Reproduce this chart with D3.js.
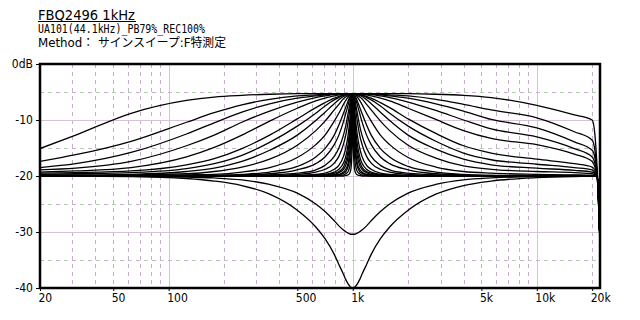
<!DOCTYPE html>
<html>
<head>
<meta charset="utf-8">
<script src="https://cdn.jsdelivr.net/npm/d3@7"></script>
<style>
  body { margin: 0; background: #fff; }
  text { fill: #000; }
  .tick-label { font-family: "Liberation Sans Narrow", "DejaVu Sans Condensed", "DejaVu Sans", sans-serif; font-size: 12px; }
</style>
</head>
<body>
<div id="chart-container"></div>
<script>
// title lines
const titleText = "FBQ2496 1kHz";
const infoLines = ["UA101(44.1kHz)_PB79%_REC100%", "Method\uff1a  \u30b5\u30a4\u30f3\u30b9\u30a4\u30fc\u30d7:F\u7279\u6e2c\u5b9a"];

// axis ticks
const xTickValues = [20, 50, 100, 500, 1000, 5000, 10000, 20000];
const xTickLabels = ["20", "50", "100", "500", "1k", "5k", "10k", "20k"];
const yTickValues = [0, -10, -20, -30, -40];
const yTickLabels = ["0dB", "-10", "-20", "-30", "-40"];
const gridFreqMinor = [30, 40, 50, 60, 70, 80, 90, 200, 300, 400, 500, 600, 700, 800, 900,
                       2000, 3000, 4000, 5000, 6000, 7000, 8000, 9000, 20000];
const gridFreqMajor = [100, 1000, 10000];
const gridDbMinor = [-5, -15, -25, -35];
const gridDbMajor = [-10, -20, -30];

// measurement frequencies (Hz) shared by every sweep
const freqs = [20, 31.25, 62.5, 125, 176.8, 250, 353.6, 500, 630, 707.1, 793.7, 840.9, 890.9, 917, 943.9, 965.9, 977.1, 988.5, 994.2,
  1000,
  1005.8, 1011.6, 1023.4, 1035.3, 1059.5, 1090.5, 1122.5, 1189.2, 1259.9, 1414.2, 1587.4, 2000, 2828, 4000, 5657, 10000, 16000,
  20000, 20700, 21300, 22050];

// boost sweeps, widest bandwidth first (dB)
const bandwidths = ["10", "7", "6", "5", "4", "3", "2.5", "2", "1.5", "1", "2/3", "1/2", "1/3", "1/4", "1/6", "1/8", "1/10", "1/12", "1/16", "1/20", "1/30", "1/60"];
const boostDb = [
  [-15.1,-12.7,-8.8,-6.5,-5.9,-5.6,-5.4,-5.3,-5.3,-5.3,-5.3,-5.3,-5.3,-5.3,-5.3,-5.3,-5.3,-5.3,-5.3, -5.3,
   -5.3,-5.3,-5.3,-5.3,-5.3,-5.3,-5.3,-5.3,-5.3,-5.3,-5.3,-5.3,-5.4,-5.6,-6.0,-7.4,-9.1, -10.0,-12.7,-19.0,-32],
  [-17.4,-16.2,-13.8,-10.4,-8.7,-7.3,-6.3,-5.7,-5.5,-5.4,-5.35,-5.3,-5.3,-5.3,-5.3,-5.3,-5.3,-5.3,-5.3, -5.3,
   -5.3,-5.3,-5.3,-5.3,-5.3,-5.3,-5.3,-5.3,-5.35,-5.4,-5.5,-5.7,-6.3,-7.2,-8.2,-9.6,-12.1, -13.6,-15.5,-19.8,-32],
  [-18.5,-17.8,-15.8,-12.5,-10.5,-8.6,-7.1,-6.1,-5.7,-5.5,-5.4,-5.35,-5.3,-5.3,-5.3,-5.3,-5.3,-5.3,-5.3, -5.3,
   -5.3,-5.3,-5.3,-5.3,-5.3,-5.3,-5.3,-5.35,-5.4,-5.5,-5.7,-6.1,-7.1,-8.4,-9.9,-11.4,-13.9, -15.4,-16.8,-19.9,-32],
  [-18.9,-18.6,-17.4,-14.6,-12.7,-10.4,-8.4,-6.8,-6.0,-5.7,-5.45,-5.4,-5.35,-5.3,-5.3,-5.3,-5.3,-5.3,-5.3, -5.3,
   -5.3,-5.3,-5.3,-5.3,-5.3,-5.3,-5.35,-5.4,-5.45,-5.7,-6.0,-6.8,-8.3,-10.0,-11.6,-13.0,-15.1, -16.6,-17.8,-20.0,-32],
  [-19.3,-19.1,-18.5,-16.6,-14.9,-12.7,-10.2,-7.9,-6.6,-6.1,-5.7,-5.5,-5.4,-5.35,-5.3,-5.3,-5.3,-5.3,-5.3, -5.3,
   -5.3,-5.3,-5.3,-5.3,-5.3,-5.35,-5.4,-5.5,-5.7,-6.1,-6.6,-7.9,-9.9,-11.9,-13.3,-14.4,-16.1, -17.4,-18.4,-20.1,-32],
  [-19.5,-19.4,-19.1,-18.0,-16.9,-15.1,-12.7,-9.8,-7.8,-6.9,-6.1,-5.8,-5.5,-5.4,-5.35,-5.3,-5.3,-5.3,-5.3, -5.3,
   -5.3,-5.3,-5.3,-5.3,-5.35,-5.4,-5.5,-5.8,-6.1,-6.9,-7.8,-9.8,-12.4,-14.6,-15.9,-17.0,-17.8, -18.4,-19.0,-20.1,-32],
  [-19.7,-19.6,-19.4,-18.7,-17.8,-16.3,-14.0,-11.1,-8.8,-7.5,-6.4,-6.0,-5.6,-5.5,-5.4,-5.35,-5.3,-5.3,-5.3, -5.3,
   -5.3,-5.3,-5.3,-5.35,-5.4,-5.5,-5.6,-6.0,-6.4,-7.5,-8.8,-11.1,-13.8,-15.9,-17.1,-17.9,-18.5, -18.9,-19.4,-20.1,-32],
  [-19.8,-19.8,-19.7,-19.2,-18.6,-17.4,-15.4,-12.7,-10.1,-8.6,-7.1,-6.4,-5.8,-5.6,-5.4,-5.35,-5.3,-5.3,-5.3, -5.3,
   -5.3,-5.3,-5.3,-5.35,-5.4,-5.6,-5.8,-6.4,-7.1,-8.6,-10.1,-12.7,-15.2,-17.0,-18.0,-18.6,-19.0, -19.3,-19.6,-20.1,-32],
  [-19.9,-19.9,-19.8,-19.6,-19.2,-18.4,-17.0,-14.5,-11.9,-10.2,-8.2,-7.2,-6.2,-5.9,-5.6,-5.4,-5.35,-5.3,-5.3, -5.3,
   -5.3,-5.3,-5.35,-5.4,-5.6,-5.9,-6.2,-7.2,-8.2,-10.2,-11.9,-14.5,-16.8,-18.2,-18.8,-19.2,-19.4, -19.6,-19.8,-20.1,-32],
  [-20.0,-20.0,-20.0,-19.8,-19.7,-19.3,-18.5,-16.7,-14.4,-12.7,-10.2,-8.8,-7.2,-6.5,-5.9,-5.5,-5.4,-5.35,-5.3, -5.3,
   -5.3,-5.35,-5.4,-5.5,-5.9,-6.5,-7.2,-8.8,-10.2,-12.7,-14.4,-16.7,-18.4,-19.2,-19.5,-19.7,-19.8, -19.9,-20.0,-20.1,-32],
  [-20.0,-20.0,-20.0,-19.9,-19.9,-19.7,-19.3,-18.3,-16.6,-15.1,-12.7,-10.9,-8.8,-7.7,-6.6,-5.8,-5.5,-5.35,-5.3, -5.3,
   -5.3,-5.35,-5.5,-5.8,-6.6,-7.7,-8.8,-10.9,-12.7,-15.1,-16.6,-18.3,-19.3,-19.7,-19.9,-19.9,-19.9, -20.0,-20.0,-20.1,-32],
  [-20.0,-20.0,-20.0,-20.0,-19.9,-19.8,-19.6,-18.9,-17.8,-16.6,-14.4,-12.7,-10.3,-8.8,-7.3,-6.1,-5.7,-5.4,-5.35, -5.3,
   -5.35,-5.4,-5.7,-6.1,-7.3,-8.8,-10.3,-12.7,-14.4,-16.6,-17.8,-18.9,-19.6,-19.8,-19.9,-20.0,-20.0, -20.0,-20.0,-20.1,-32],
  [-20.0,-20.0,-20.0,-20.0,-20.0,-19.9,-19.8,-19.5,-18.9,-18.1,-16.5,-15.0,-12.7,-11.0,-8.8,-7.0,-6.1,-5.5,-5.35, -5.3,
   -5.35,-5.5,-6.1,-7.0,-8.8,-11.0,-12.7,-15.0,-16.5,-18.1,-18.9,-19.5,-19.8,-19.9,-20.0,-20.0,-20.0, -20.0,-20.0,-20.1,-32],
  [-20.0,-20.0,-20.0,-20.0,-20.0,-20.0,-19.9,-19.7,-19.3,-18.8,-17.7,-16.5,-14.3,-12.7,-10.3,-7.9,-6.7,-5.7,-5.4, -5.3,
   -5.4,-5.7,-6.7,-7.9,-10.3,-12.7,-14.3,-16.5,-17.7,-18.8,-19.3,-19.7,-19.9,-20.0,-20.0,-20.0,-20.0, -20.0,-20.0,-20.1,-32],
  [-20.0,-20.0,-20.0,-20.0,-20.0,-20.0,-20.0,-19.9,-19.7,-19.5,-18.8,-18.1,-16.5,-15.0,-12.7,-9.8,-7.9,-6.1,-5.5, -5.3,
   -5.5,-6.1,-7.9,-9.8,-12.7,-15.0,-16.5,-18.1,-18.8,-19.5,-19.7,-19.9,-20.0,-20.0,-20.0,-20.0,-20.0, -20.0,-20.0,-20.1,-32],
  [-20.0,-20.0,-20.0,-20.0,-20.0,-20.0,-20.0,-19.9,-19.8,-19.7,-19.3,-18.8,-17.7,-16.5,-14.3,-11.3,-9.2,-6.7,-5.7, -5.3,
   -5.7,-6.7,-9.2,-11.3,-14.3,-16.5,-17.7,-18.8,-19.3,-19.7,-19.8,-19.9,-20.0,-20.0,-20.0,-20.0,-20.0, -20.0,-20.0,-20.1,-32],
  [-20.0,-20.0,-20.0,-20.0,-20.0,-20.0,-20.0,-20.0,-19.9,-19.8,-19.5,-19.2,-18.4,-17.4,-15.5,-12.7,-10.3,-7.3,-5.9, -5.3,
   -5.9,-7.3,-10.3,-12.7,-15.5,-17.4,-18.4,-19.2,-19.5,-19.8,-19.9,-20.0,-20.0,-20.0,-20.0,-20.0,-20.0, -20.0,-20.0,-20.1,-32],
  [-20.0,-20.0,-20.0,-20.0,-20.0,-20.0,-20.0,-20.0,-20.0,-19.9,-19.7,-19.4,-18.8,-18.1,-16.5,-13.7,-11.3,-7.9,-6.1, -5.3,
   -6.1,-7.9,-11.3,-13.7,-16.5,-18.1,-18.8,-19.4,-19.7,-19.9,-20.0,-20.0,-20.0,-20.0,-20.0,-20.0,-20.0, -20.0,-20.0,-20.1,-32],
  [-20.0,-20.0,-20.0,-20.0,-20.0,-20.0,-20.0,-20.0,-20.0,-19.9,-19.8,-19.7,-19.3,-18.8,-17.7,-15.3,-13.0,-9.2,-6.7, -5.3,
   -6.7,-9.2,-13.0,-15.3,-17.7,-18.8,-19.3,-19.7,-19.8,-19.9,-20.0,-20.0,-20.0,-20.0,-20.0,-20.0,-20.0, -20.0,-20.0,-20.1,-32],
  [-20.0,-20.0,-20.0,-20.0,-20.0,-20.0,-20.0,-20.0,-20.0,-20.0,-19.9,-19.8,-19.5,-19.2,-18.3,-16.5,-14.3,-10.3,-7.3, -5.3,
   -7.3,-10.3,-14.3,-16.5,-18.3,-19.2,-19.5,-19.8,-19.9,-20.0,-20.0,-20.0,-20.0,-20.0,-20.0,-20.0,-20.0, -20.0,-20.0,-20.1,-32],
  [-20.0,-20.0,-20.0,-20.0,-20.0,-20.0,-20.0,-20.0,-20.0,-20.0,-20.0,-19.9,-19.8,-19.6,-19.2,-18.1,-16.5,-12.7,-8.9, -5.3,
   -8.9,-12.7,-16.5,-18.1,-19.2,-19.6,-19.8,-19.9,-20.0,-20.0,-20.0,-20.0,-20.0,-20.0,-20.0,-20.0,-20.0, -20.0,-20.0,-20.1,-32],
  [-20.0,-20.0,-20.0,-20.0,-20.0,-20.0,-20.0,-20.0,-20.0,-20.0,-20.0,-20.0,-20.0,-19.9,-19.8,-19.4,-18.8,-16.5,-12.7, -5.3,
   -12.7,-16.5,-18.8,-19.4,-19.8,-19.9,-20.0,-20.0,-20.0,-20.0,-20.0,-20.0,-20.0,-20.0,-20.0,-20.0,-20.0, -20.0,-20.0,-20.1,-32]
];

// cut sweeps (dB)
const cutDb = [
  [-20.0,-20.0,-20.05,-20.2,-20.35,-20.7,-21.5,-23.05,-25.0,-26.35,-28.0,-28.9,-29.65,-29.95,-30.2,-30.35,-30.4,-30.4,-30.4, -30.4,
   -30.4,-30.4,-30.4,-30.35,-30.2,-29.95,-29.65,-28.9,-28.0,-26.35,-25.0,-23.05,-21.5,-20.7,-20.35,-20.1,-20.05, -20.0,-20.0,-20.1,-32],
  [-20.0,-20.05,-20.1,-20.45,-20.9,-21.7,-23.25,-26.1,-29.1,-31.2,-34.0,-35.8,-37.55,-38.5,-39.25,-39.7,-39.87,-39.97,-40.0, -40.0,
   -40.0,-39.97,-39.87,-39.7,-39.25,-38.5,-37.55,-35.8,-34.0,-31.2,-29.1,-26.1,-23.25,-21.7,-20.9,-20.3,-20.1, -20.05,-20.0,-20.1,-32]
];

const margin = {top: 64, right: 40, bottom: 32, left: 40},
    width = 640 - margin.left - margin.right,
    height = 320 - margin.top - margin.bottom;

const svg = d3.select("#chart-container")
    .append("svg")
    .attr("width", 640)
    .attr("height", 320)
    .style("background", "#fff");

// header
svg.append("text")
    .attr("x", 38).attr("y", 19.5)
    .attr("textLength", 97).attr("lengthAdjust", "spacingAndGlyphs")
    .style("font-family", "'DejaVu Sans', sans-serif")
    .style("font-size", "13.5px")
    .text(titleText);
svg.append("line")
    .attr("x1", 38).attr("x2", 136)
    .attr("y1", 21.5).attr("y2", 21.5)
    .attr("stroke", "#000").attr("stroke-width", 1);
svg.append("text")
    .attr("x", 38).attr("y", 33)
    .attr("textLength", 167).attr("lengthAdjust", "spacingAndGlyphs")
    .style("font-family", "'DejaVu Sans Mono', monospace")
    .style("font-size", "11.5px")
    .text(infoLines[0]);
svg.append("text")
    .attr("x", 38).attr("y", 47)
    .attr("textLength", 188).attr("lengthAdjust", "spacingAndGlyphs")
    .style("font-family", "'DejaVu Sans', 'Noto Sans CJK JP', sans-serif")
    .style("font-size", "12px")
    .text(infoLines[1]);

const g = svg.append("g")
    .attr("transform", `translate(${margin.left},${margin.top})`);

const x = d3.scaleLog()
    .domain([20, 22050])
    .range([0, width]);
const y = d3.scaleLinear()
    .domain([-40, 0])
    .range([height, 0]);

// grid
const purple = "#c8aecc", green = "#b4d0b4";
g.selectAll(".vminor")
    .data(gridFreqMinor)
    .join("line")
    .attr("x1", d => Math.round(x(d)) + 0.5).attr("x2", d => Math.round(x(d)) + 0.5)
    .attr("y1", 0).attr("y2", height)
    .attr("stroke", purple).attr("stroke-dasharray", "4,4")
    .attr("shape-rendering", "crispEdges");
g.selectAll(".hminor")
    .data(gridDbMinor)
    .join("line")
    .attr("x1", 0).attr("x2", width)
    .attr("y1", d => Math.round(y(d)) + 0.5).attr("y2", d => Math.round(y(d)) + 0.5)
    .attr("stroke", purple).attr("stroke-dasharray", "4,4")
    .attr("shape-rendering", "crispEdges");
g.selectAll(".hminor2")
    .data(gridDbMinor)
    .join("line")
    .attr("x1", 0).attr("x2", width)
    .attr("y1", d => Math.round(y(d)) + 0.5).attr("y2", d => Math.round(y(d)) + 0.5)
    .attr("stroke", green).attr("stroke-dasharray", "4,12").attr("stroke-dashoffset", -8)
    .attr("shape-rendering", "crispEdges");
[["v", gridFreqMajor], ["h", gridDbMajor]].forEach(([dir, vals]) => {
    [["#c4d4c4", "none"], ["#d4c0d4", "1,1"]].forEach(([col, dash]) => {
        g.selectAll(null)
            .data(vals)
            .join("line")
            .attr("x1", d => dir === "v" ? Math.round(x(d)) + 0.5 : 0)
            .attr("x2", d => dir === "v" ? Math.round(x(d)) + 0.5 : width)
            .attr("y1", d => dir === "h" ? Math.round(y(d)) + 0.5 : 0)
            .attr("y2", d => dir === "h" ? Math.round(y(d)) + 0.5 : height)
            .attr("stroke", col).attr("stroke-dasharray", dash)
            .attr("shape-rendering", "crispEdges");
    });
});

// curves
g.append("clipPath").attr("id", "plot-clip")
    .append("rect").attr("width", width).attr("height", height);

const line = d3.line()
    .x((d, i) => x(freqs[i]))
    .y(d => y(d))
    .curve(d3.curveMonotoneX);

g.append("g")
    .attr("clip-path", "url(#plot-clip)")
    .selectAll("path")
    .data(boostDb.concat(cutDb))
    .join("path")
    .attr("d", line)
    .attr("fill", "none")
    .attr("stroke", "#000")
    .attr("stroke-width", 1.3);

// axes
const yAxis = g.append("g")
    .call(d3.axisLeft(y).tickValues(yTickValues).tickFormat((d, i) => yTickLabels[i]).tickSize(4).tickPadding(3));
const xAxis = g.append("g")
    .attr("transform", `translate(0,${height})`)
    .call(d3.axisBottom(x).tickValues(xTickValues).tickFormat((d, i) => xTickLabels[i]).tickSize(3).tickPadding(2));
[yAxis, xAxis].forEach(a => {
    a.select(".domain").remove();
    a.selectAll("line").attr("stroke", "#000");
    a.selectAll("text").attr("class", "tick-label").attr("fill", "#000");
});
xAxis.selectAll("text").attr("text-anchor", "start").attr("dx", -2);

// frame
g.append("rect")
    .attr("width", width).attr("height", height)
    .attr("fill", "none")
    .attr("stroke", "#000")
    .attr("stroke-width", 2.5);
</script>
</body>
</html>
